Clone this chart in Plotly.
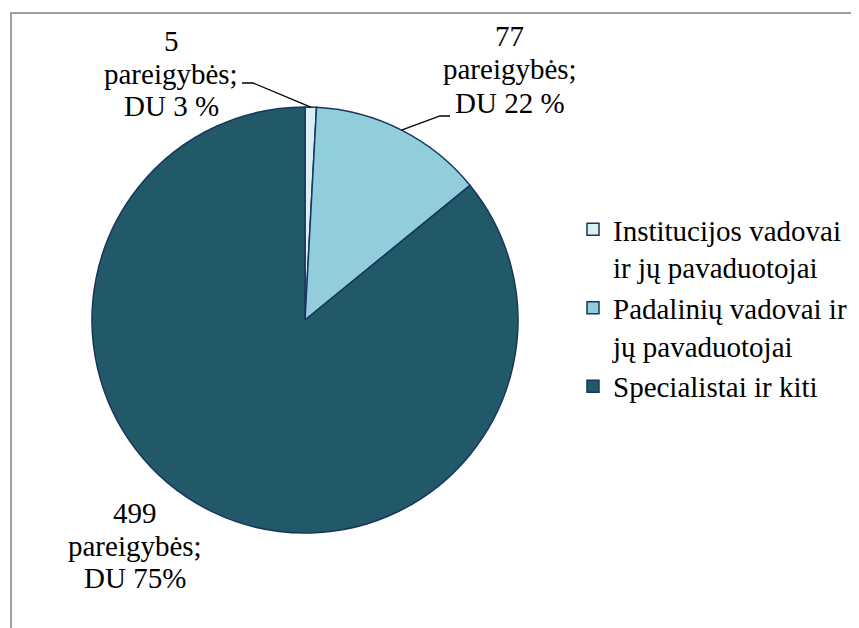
import math
import plotly.graph_objects as go

categories = ["Institucijos vadovai<br>ir jų pavaduotojai",
              "Padalinių vadovai ir<br>jų pavaduotojai",
              "Specialistai ir kiti"]
positions = [5, 77, 499]
du_share = ["DU 3 %", "DU 22 %", "DU 75%"]
colors = ["#DBEEF4", "#92CDDC", "#215968"]

W, H = 859, 628
OFF = 8  # page body margin
FONT = "Liberation Serif"
FS = 29

# pie geometry (pixels in the screenshot)
cx, cy, r = 305, 320, 213


def px(x):
    return (x - OFF) / W


def py(y):
    return 1 - (y - OFF) / H


fig = go.Figure(go.Pie(
    labels=categories, values=positions, sort=False, direction="clockwise",
    rotation=0, textinfo="none", hoverinfo="label+value",
    marker=dict(colors=colors, line=dict(color="#17375E", width=1.5)),
    domain=dict(x=[px(cx - r), px(cx + r)], y=[py(cy + r), py(cy - r)]),
))

# label texts (lines) and their centre positions in pixels
label_lines = [[str(positions[i]), "pareigybės;", du_share[i]] for i in range(3)]
label_pos = [(171, [41, 74, 106]), (510, [36, 69, 103]), (135, [513, 546, 578])]
annotations = []
for lines, (x, ys) in zip(label_lines, label_pos):
    for t, y in zip(lines, ys):
        annotations.append(dict(x=px(x), y=py(y), xref="paper", yref="paper", text=t,
                                showarrow=False, xanchor="center", yanchor="middle",
                                font=dict(family=FONT, size=FS, color="#000")))

# connector lines from slice mid-angles
total = sum(positions)
cum = 0
mids = []
for v in positions:
    mids.append((cum + v / 2) / total * 2 * math.pi)
    cum += v


def edge(a):
    return cx + r * math.sin(a), cy - r * math.cos(a)


shapes = []
e1 = edge(mids[0])
shapes.append(dict(type="path", xref="paper", yref="paper",
                   path=f"M {px(242)},{py(83)} L {px(253)},{py(83)} L {px(e1[0])},{py(e1[1])}",
                   line=dict(color="#000", width=1.3)))
e2 = edge(mids[1])
shapes.append(dict(type="path", xref="paper", yref="paper",
                   path=f"M {px(e2[0])},{py(e2[1])} L {px(440)},{py(116)} L {px(450)},{py(116)}",
                   line=dict(color="#000", width=1.3)))
# chart frame
shapes.append(dict(type="rect", xref="paper", yref="paper",
                   x0=px(11), y0=-0.1, x1=1.1, y1=py(13),
                   line=dict(color="#A0A0A0", width=2), layer="below"))

fig.update_layout(
    width=W, height=H, margin=dict(l=0, r=0, t=0, b=0),
    paper_bgcolor="white", plot_bgcolor="white",
    showlegend=True,
    legend=dict(x=px(573), y=py(308), xanchor="left", yanchor="middle",
                valign="top",
                font=dict(family=FONT, size=FS, color="#000"),
                bgcolor="rgba(0,0,0,0)", itemwidth=30, tracegroupgap=0),
    annotations=annotations, shapes=shapes,
)

fig.write_html("out.html")
